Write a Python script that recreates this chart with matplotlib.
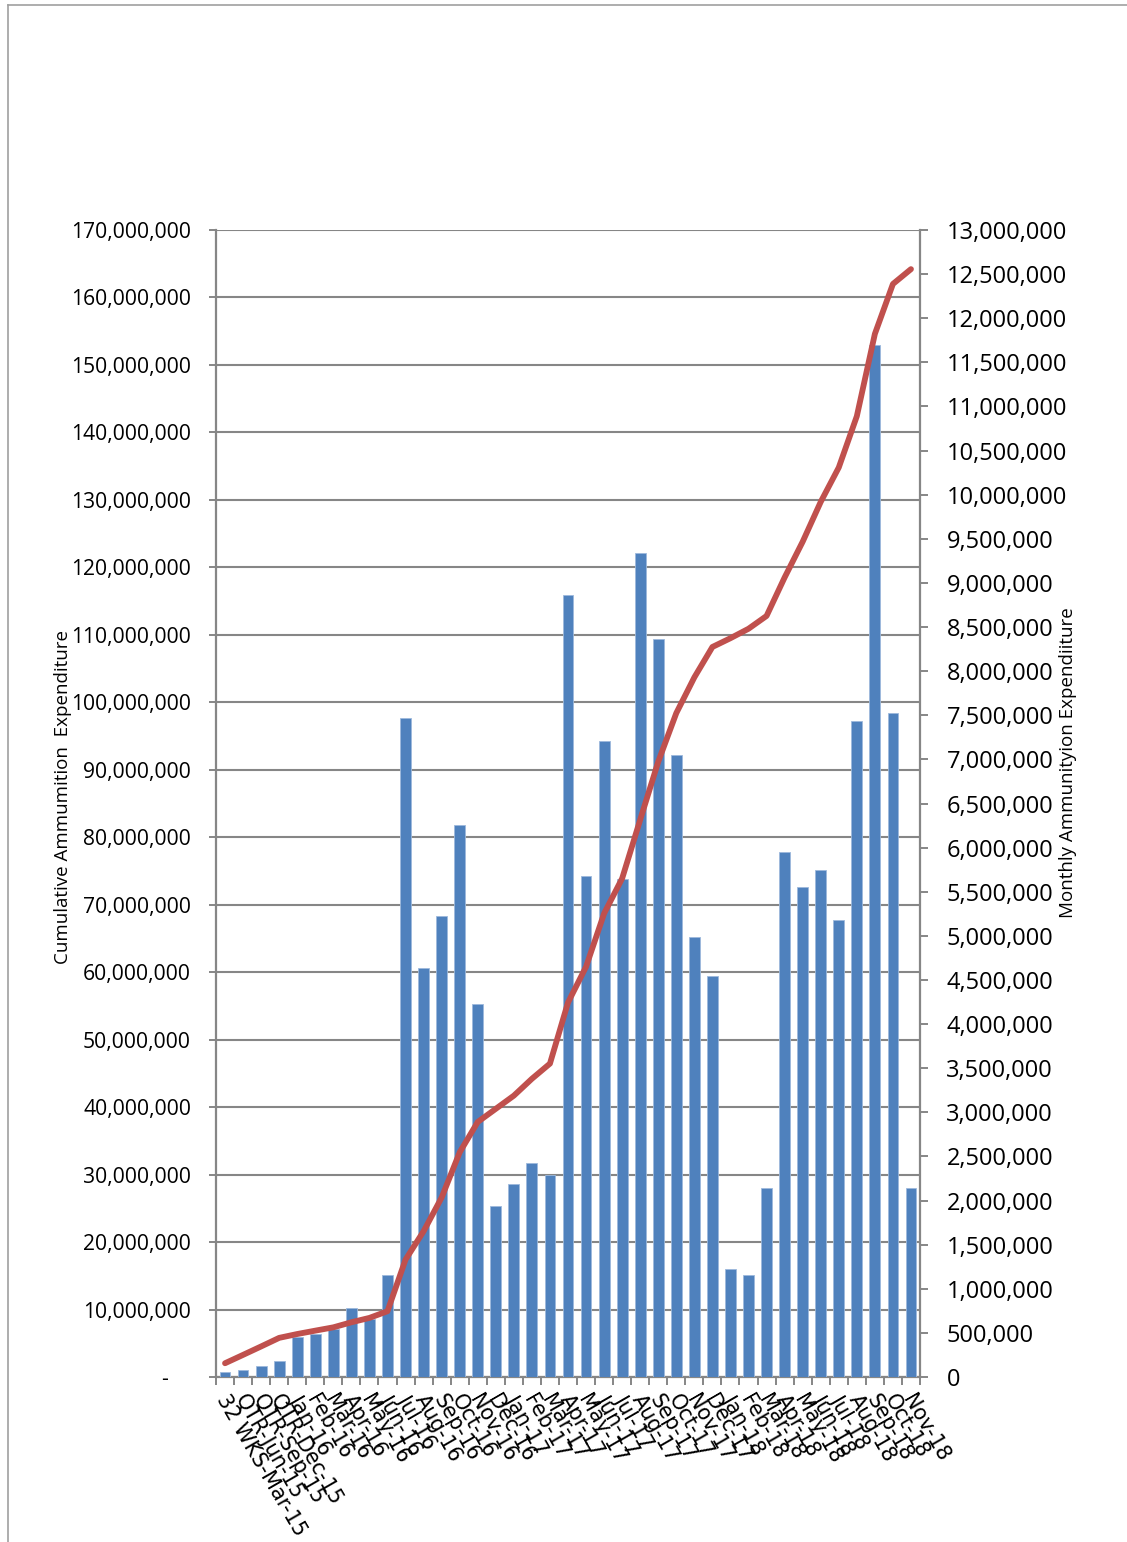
import matplotlib
matplotlib.use("Agg")
import matplotlib.pyplot as plt
import matplotlib.transforms as mtransforms
import numpy as np
from matplotlib.ticker import FuncFormatter, MultipleLocator, FixedLocator

## Data
periods = ["32 WKS-Mar-15", "QTR-Jun-15", "QTR-Sep-15", "QTR-Dec-15",
           "Jan-16", "Feb-16", "Mar-16", "Apr-16", "May-16", "Jun-16",
           "Jul-16", "Aug-16", "Sep-16", "Oct-16", "Nov-16", "Dec-16",
           "Jan-17", "Feb-17", "Mar-17", "Apr-17", "May-17", "Jun-17",
           "Jul-17", "Aug-17", "Sep-17", "Oct-17", "Nov-17", "Dec-17",
           "Jan-18", "Feb-18", "Mar-18", "Apr-18", "May-18", "Jun-18",
           "Jul-18", "Aug-18", "Sep-18", "Oct-18", "Nov-18"]

# monthly expenditure (right axis)
monthly = [54000, 80000, 125000, 179000,
           449000, 487000, 544000, 784000, 658000, 1160000,
           7467000, 4630000, 5227000, 6258000, 4225000, 1939000,
           2182000, 2430000, 2288000, 8868000, 5676000, 7204000,
           5641000, 9337000, 8362000, 7048000, 4992000, 4542000,
           1227000, 1151000, 2147000, 5948000, 5559000, 5751000,
           5179000, 7435000, 11692000, 7526000, 2147000]

# cumulative expenditure (left axis)
cumulative = [2040000, 3280000, 4530000, 5800000,
              6370000, 6870000, 7360000, 8110000, 8760000, 9750000,
              17400000, 21600000, 26600000, 33300000, 37800000, 39750000,
              41700000, 44200000, 46450000, 55500000, 60800000, 68700000,
              73900000, 82600000, 91200000, 98400000, 103700000, 108200000,
              109500000, 110900000, 112800000, 118500000, 123800000, 129700000,
              134800000, 142400000, 154600000, 162000000, 164200000]

## Style
BAR_COLOR = '#4F81BD'
LINE_COLOR = '#C0504D'
AXIS_GRAY = '#868686'
TICK_FONT = 'Open Sans'

fig = plt.figure(figsize=(11.27, 15.42), dpi=100)
pos = [216/1127, 1 - 1377/1542, (920 - 216)/1127, (1377 - 230)/1542]

ax = fig.add_axes(pos)          # left scale + grid + category axis
ax2 = ax.twinx()                # monthly bars
ax3 = ax.twinx()                # cumulative line, drawn last
ax.set_zorder(1)
ax2.set_zorder(2)
ax3.set_zorder(3)
for a in (ax2, ax3):
    a.patch.set_visible(False)

x = np.arange(len(periods))

ax2.bar(x, monthly, width=0.6, color=BAR_COLOR, edgecolor='#9DB9DC', linewidth=0.6)
ax3.plot(x, cumulative, color=LINE_COLOR, linewidth=4.2, solid_joinstyle='round',
         solid_capstyle='round')

# left axis
ax.set_xlim(-0.5, len(periods) - 0.5)
ax.set_ylim(0, 170e6)
ax.yaxis.set_major_locator(MultipleLocator(10e6))
ax.yaxis.set_major_formatter(FuncFormatter(lambda v, p: '-    ' if v == 0 else f'{v:,.0f}'))
ax.grid(axis='y', color=AXIS_GRAY, linewidth=1.5)
ax.set_axisbelow(True)
ax.tick_params(axis='y', direction='out', length=5, width=1.4, color=AXIS_GRAY,
               pad=13, labelsize=15.2)
for t in ax.get_yticklabels():
    t.set_fontfamily(TICK_FONT)

# right axis
ax2.set_ylim(0, 13e6)
ax2.yaxis.set_major_locator(MultipleLocator(500000))
ax2.yaxis.set_major_formatter(FuncFormatter(lambda v, p: f'{v:,.0f}'))
ax2.tick_params(axis='y', direction='out', length=6, width=1.4, color=AXIS_GRAY,
                pad=13, labelsize=17)
for t in ax2.get_yticklabels():
    t.set_fontfamily(TICK_FONT)

ax3.set_ylim(ax.get_ylim())
ax3.set_yticks([])
for a in (ax2, ax3):
    for s in a.spines.values():
        s.set_visible(False)

for side in ('left', 'right', 'bottom'):
    ax.spines[side].set_color(AXIS_GRAY)
    ax.spines[side].set_linewidth(1.6)
ax.spines['top'].set_visible(False)

# x axis: ticks between categories, labels at centres
ax.xaxis.set_major_locator(FixedLocator(x))
ax.xaxis.set_minor_locator(FixedLocator(np.arange(-0.5, len(periods), 1)))
ax.set_xticklabels(periods, rotation=-60, ha='left', va='top',
                   rotation_mode='anchor', fontsize=15, fontfamily='DejaVu Sans')
ax.tick_params(axis='x', which='major', length=0, pad=10)
ax.tick_params(axis='x', which='minor', direction='out', length=6, width=1.4,
               color=AXIS_GRAY)
shift = mtransforms.ScaledTranslation(5/100, 0, fig.dpi_scale_trans)
for lbl in ax.get_xticklabels():
    lbl.set_transform(lbl.get_transform() + shift)

# axis titles
fig.text(63/1127, 1 - 797/1542, 'Cumulative Ammumition  Expenditure',
         rotation=90, ha='center', va='center', fontsize=13.5, fontfamily=TICK_FONT)
fig.text(1068/1127, 1 - 763/1542, 'Monthly Ammunityion Expendiiture',
         rotation=90, ha='center', va='center', fontsize=13.5, fontfamily=TICK_FONT)

# outer frame (left and top edges)
fig.add_artist(plt.Line2D([8/1127, 8/1127], [0, 1 - 5/1542], transform=fig.transFigure,
                          color='#A0A0A0', linewidth=1.2))
fig.add_artist(plt.Line2D([8/1127, 1], [1 - 5/1542, 1 - 5/1542], transform=fig.transFigure,
                          color='#A0A0A0', linewidth=1.2))

fig.savefig('out.png', dpi=100)
